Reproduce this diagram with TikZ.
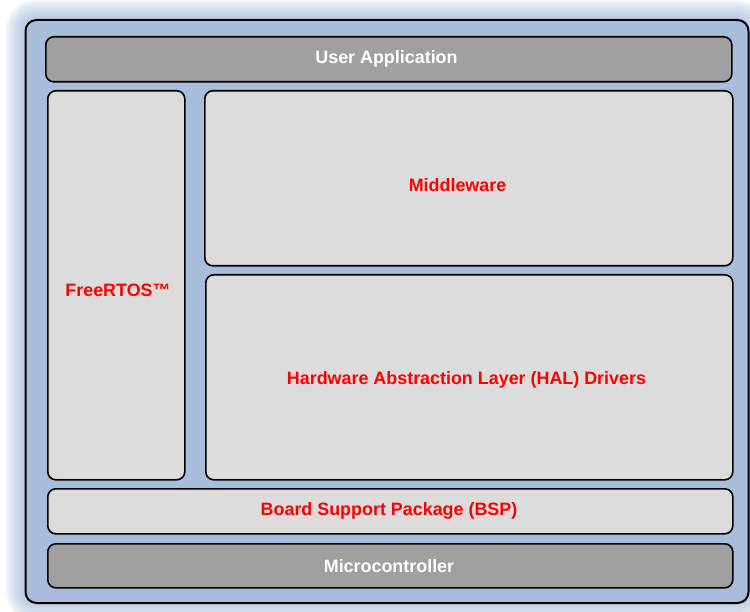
\documentclass[tikz,border=0pt]{standalone}
\usepackage{fontspec}
\setmainfont{Liberation Sans}
\definecolor{outerfill}{HTML}{A7BDDB}
\definecolor{glowc}{HTML}{9DB4D8}
\definecolor{darkbox}{HTML}{A0A0A0}
\definecolor{lightbox}{HTML}{DCDCDC}
\definecolor{redtxt}{HTML}{FF0000}
\tikzset{
  layer/.style={draw=black, line width=1.6pt, rounded corners=8pt, anchor=north west, inner sep=0pt},
  darklayer/.style={layer, fill=darkbox},
  lightlayer/.style={layer, fill=lightbox},
  whitelabel/.style={text=white, font=\fontsize{17.9}{20}\selectfont\bfseries, inner sep=0pt},
  redlabel/.style={text=redtxt, font=\fontsize{17.9}{20}\selectfont\bfseries, inner sep=0pt},
}
\begin{document}
\begin{tikzpicture}[x=1pt,y=-1pt]
\useasboundingbox (0,0) rectangle (750,612);
\foreach \i in {1,...,19}{
  \fill[glowc, opacity=0.055, rounded corners=10pt+\i pt] (24-\i,19-\i) rectangle (748+\i,602+\i);
}
\node[draw=black, line width=2pt, fill=outerfill, rounded corners=11pt, anchor=north west, inner sep=0pt, minimum width=723pt, minimum height=583pt] (outer) at (24.5,19) {};
\node[darklayer, minimum width=686pt, minimum height=45pt] (app) at (45,36) {};
\node[lightlayer, minimum width=137pt, minimum height=389pt] (rtos) at (47,90) {};
\node[lightlayer, minimum width=528pt, minimum height=175pt] (mw) at (204,90) {};
\node[lightlayer, minimum width=527pt, minimum height=205pt] (hal) at (205,274) {};
\node[lightlayer, minimum width=685pt, minimum height=45pt] (bsp) at (47,488) {};
\node[darklayer, minimum width=685pt, minimum height=44pt] (mcu) at (47,543) {};
\node[whitelabel] (appt) at (386.5,59) {User Application};
\node[redlabel] (rtost) at (118,290.5) {FreeRTOS™};
\node[redlabel] (mwt) at (457.5,185) {Middleware};
\node[redlabel] (halt) at (466.5,380) {Hardware Abstraction Layer (HAL) Drivers};
\node[redlabel] (bspt) at (389,511) {Board Support Package (BSP)};
\node[whitelabel] (mcut) at (389,566) {Microcontroller};
\end{tikzpicture}
\end{document}
